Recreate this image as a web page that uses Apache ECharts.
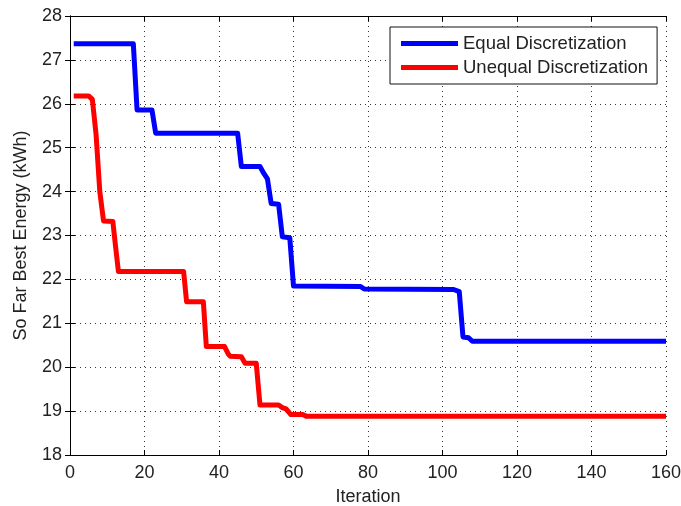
<!DOCTYPE html>
<html>
<head>
<meta charset="utf-8">
<script src="https://cdn.jsdelivr.net/npm/echarts@6/dist/echarts.min.js"></script>
<style>
  html, body { margin: 0; padding: 0; background: #fff; }
  #chart { width: 681px; height: 506px; }
</style>
</head>
<body>
<div id="chart"></div>
<script>
// breakpoints (iteration, best energy)
var equalIter = [1, 17, 18, 22, 23, 45, 46, 51, 52, 53, 54, 56, 57, 59, 60, 78, 79, 103, 104.5, 105.5, 107, 108, 160];
var equalEnergy = [27.37, 27.37, 25.86, 25.86, 25.33, 25.33, 24.57, 24.57, 24.42, 24.29, 23.73, 23.71, 22.97, 22.95, 21.85, 21.84, 21.78, 21.77, 21.72, 20.69, 20.67, 20.59, 20.59];

var unequalIter = [1, 5, 6, 7, 8, 9, 11.5, 12.3, 13, 30.5, 31.3, 35.8, 36.6, 41.5, 42.5, 43, 46, 47, 50, 51, 56, 57, 58, 59.3, 62.5, 63.5, 160];
var unequalEnergy = [26.18, 26.18, 26.1, 25.3, 24.0, 23.33, 23.32, 22.7, 22.18, 22.18, 21.49, 21.49, 20.47, 20.47, 20.3, 20.25, 20.24, 20.09, 20.09, 19.14, 19.14, 19.08, 19.05, 18.92, 18.92, 18.88, 18.88];

var xTicks = { min: 0, max: 160, interval: 20 };
var yTicks = { min: 18, max: 28, interval: 1 };

function pairs(xs, ys) {
  return xs.map(function (x, i) { return [x, ys[i]]; });
}

var font = "'Liberation Sans', Arial, sans-serif";
var textColor = "#222";

var myChart = echarts.init(document.getElementById("chart"));
myChart.setOption({
  backgroundColor: "#fff",
  animation: false,
  grid: {
    left: 70,
    right: 15,
    top: 16,
    bottom: 51,
    containLabel: false,
    outerBoundsMode: "none",
  },
  legend: {
    orient: "vertical",
    left: 390,
    top: 27,
    padding: [7, 9, 7, 11],
    itemWidth: 57,
    itemHeight: 5,
    itemGap: 5,
    icon: "rect",
    backgroundColor: "#fff",
    borderColor: "#111",
    borderWidth: 1,
    borderRadius: 0,
    textStyle: {
      fontFamily: font,
      fontSize: 18.5,
      lineHeight: 19,
      color: textColor,
    },
    data: ["Equal Discretization", "Unequal Discretization"],
  },
  xAxis: [
    {
      type: "value",
      min: xTicks.min,
      max: xTicks.max,
      interval: xTicks.interval,
      name: "Iteration",
      nameLocation: "middle",
      nameGap: 33,
      nameTextStyle: { fontFamily: font, fontSize: 18, color: textColor },
      axisLine: { lineStyle: { color: "#000", width: 1 } },
      axisTick: { inside: true, length: 5, lineStyle: { color: "#000" } },
      axisLabel: { fontFamily: font, fontSize: 18, color: textColor, margin: 9 },
      splitLine: { show: true, lineStyle: { color: "#333", width: 1, type: [1, 4] } },
    },
    {
      type: "value",
      position: "top",
      min: xTicks.min,
      max: xTicks.max,
      interval: xTicks.interval,
      axisLine: { lineStyle: { color: "#000", width: 1 } },
      axisTick: { inside: true, length: 5, lineStyle: { color: "#000" } },
      axisLabel: { show: false },
      splitLine: { show: false },
    },
  ],
  yAxis: [
    {
      type: "value",
      min: yTicks.min,
      max: yTicks.max,
      interval: yTicks.interval,
      name: "So Far Best Energy (kWh)",
      nameLocation: "middle",
      nameGap: 40,
      nameTextStyle: { fontFamily: font, fontSize: 18, color: textColor },
      axisLine: { show: true, lineStyle: { color: "#000", width: 1 } },
      axisTick: { show: true, inside: true, length: 5, lineStyle: { color: "#000" } },
      axisLabel: { fontFamily: font, fontSize: 18, color: textColor, margin: 8 },
      splitLine: { show: true, lineStyle: { color: "#333", width: 1, type: [1, 4] } },
    },
    {
      type: "value",
      position: "right",
      min: yTicks.min,
      max: yTicks.max,
      interval: yTicks.interval,
      axisLine: { show: true, lineStyle: { color: "#000", width: 1 } },
      axisTick: { show: true, inside: true, length: 5, lineStyle: { color: "#000" } },
      axisLabel: { show: false },
      splitLine: { show: false },
    },
  ],
  series: [
    {
      name: "Equal Discretization",
      type: "line",
      data: pairs(equalIter, equalEnergy),
      showSymbol: false,
      symbol: "none",
      color: "#0000ff",
      lineStyle: { color: "#0000ff", width: 5, join: "round" },
      z: 3,
    },
    {
      name: "Unequal Discretization",
      type: "line",
      data: pairs(unequalIter, unequalEnergy),
      showSymbol: false,
      symbol: "none",
      color: "#ff0000",
      lineStyle: { color: "#ff0000", width: 5, join: "round" },
      z: 3,
    },
  ],
});
</script>
</body>
</html>
